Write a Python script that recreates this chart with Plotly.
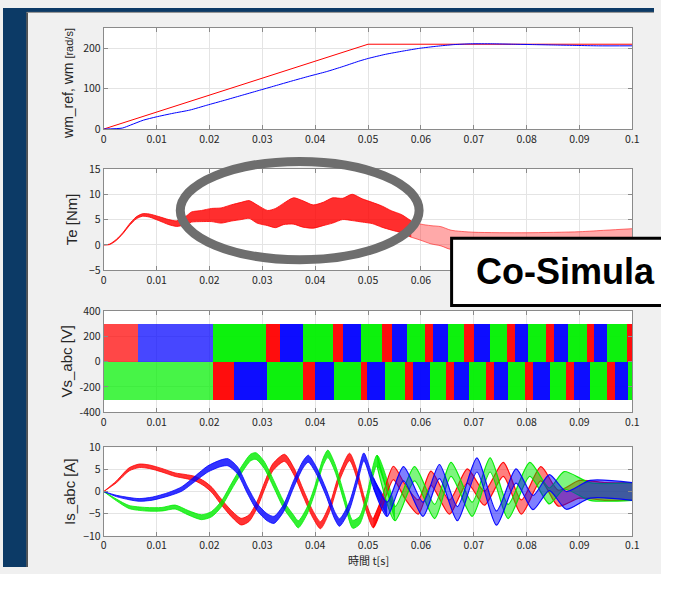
import plotly.graph_objects as go

# Figure kept slightly smaller than the 677x590 window so the page never overflows;
# positions below are given in window pixels measured on the reference.
W, H = 661, 574

# ---------------- data ----------------
t_ticks = [0, 0.01, 0.02, 0.03, 0.04, 0.05, 0.06, 0.07, 0.08, 0.09, 0.1]
t_tick_labels = ["0", "0.01", "0.02", "0.03", "0.04", "0.05", "0.06", "0.07", "0.08", "0.09", "0.1"]
# on the torque axis the labels right of 0.06 are covered by the callout box
te_tick_labels = ["0", "0.01", "0.02", "0.03", "0.04", "0.05", "0.06", "", "", "", ""]

# speed reference and measured speed [rad/s]
wm_ref_t = [0, 0.05, 0.1]
wm_ref_v = [0, 210, 210]
wm_t = [0, 0.0035, 0.0051, 0.0075, 0.0099, 0.0131, 0.0163, 0.0195, 0.0228, 0.026, 0.0292,
        0.0324, 0.0356, 0.0389, 0.0421, 0.0453, 0.0485, 0.0501, 0.0533, 0.0566, 0.0598,
        0.063, 0.0662, 0.0694, 0.0735, 0.0775, 0.0815, 0.0855, 0.0895, 0.0936, 0.1]
wm_v = [0, 2.4, 10, 22, 30, 39, 47, 59, 71, 83, 95,
        107, 119, 131, 142, 155, 169, 175, 185, 193, 200,
        205, 209, 211, 211, 210, 209, 208, 207, 206, 206]

# torque: band centre and half thickness [Nm]
te_t = [0, 0.0011, 0.0024, 0.0036, 0.0048, 0.0061, 0.0073, 0.0086, 0.0104, 0.0123,
        0.0138, 0.0155, 0.0166, 0.0185, 0.0204, 0.0222, 0.0241, 0.026, 0.0275, 0.029,
        0.031, 0.0325, 0.034, 0.0359, 0.0377, 0.0396, 0.0415, 0.0433, 0.0452, 0.047,
        0.0489, 0.0508, 0.0526, 0.0545, 0.0563, 0.0582, 0.06, 0.0619, 0.0638, 0.0657,
        0.07, 0.08, 0.09, 0.095, 0.1]
te_mid = [0, 0.1, 1.0, 2.3, 3.9, 5.3, 5.9, 5.8, 5.2, 4.5,
          4.2, 4.8, 5.5, 5.7, 5.9, 5.8, 6.3, 6.7, 7.0, 6.1,
          5.3, 5.3, 6.1, 6.7, 6.1, 5.6, 6.1, 6.8, 7.1, 7.4,
          6.8, 6.3, 5.6, 4.8, 4.2, 3.1, 2.5, 2.0, 1.7, 1.0,
          1.0, 0.9, 1.0, 1.2, 1.4]
te_hw = [0, 0.05, 0.1, 0.1, 0.15, 0.2, 0.25, 0.3, 0.4, 0.5,
         0.55, 0.8, 1.0, 1.1, 1.3, 1.5, 1.6, 1.7, 1.75, 1.8,
         1.5, 1.9, 2.1, 2.6, 2.6, 2.3, 2.3, 2.5, 2.1, 2.6,
         2.3, 2.1, 2.1, 1.9, 1.8, 1.6, 1.6, 1.8, 1.9, 1.9,
         1.5, 1.5, 1.6, 1.7, 1.8]

# inverter phase voltages: switching blocks (edges in s, colour of phase)
vs_level = 300
vs_top_edges = [0, 0.0064, 0.0207, 0.0306, 0.0333, 0.0377, 0.0433, 0.0452, 0.0487, 0.0526,
                0.0545, 0.0573, 0.0607, 0.0622, 0.065, 0.0681, 0.07, 0.0731, 0.0762, 0.0778,
                0.0802, 0.0837, 0.0852, 0.0877, 0.0914, 0.0927, 0.0951, 0.0989, 0.1]
vs_top_phase = ["a", "c", "b", "a", "c", "b", "a", "c", "b", "a", "c", "b", "a", "c",
                "b", "a", "c", "b", "a", "c", "b", "a", "c", "b", "a", "c", "b", "a"]
vs_bot_edges = [0, 0.0207, 0.0246, 0.0309, 0.0376, 0.0399, 0.0435, 0.0486, 0.0498, 0.0532,
                0.057, 0.0585, 0.0616, 0.0647, 0.0663, 0.0691, 0.0722, 0.0737, 0.0765, 0.0796,
                0.0812, 0.0843, 0.0874, 0.0889, 0.092, 0.0951, 0.0967, 0.0992, 0.1]
vs_bot_phase = ["b", "a", "c", "b", "a", "c", "b", "a", "c", "b", "a", "c", "b", "a",
                "c", "b", "a", "c", "b", "a", "c", "b", "a", "c", "b", "a", "c", "b"]

# stator currents [A]: centre of each phase and half thickness of the ripple
ia_t = [0, 0.0024, 0.0048, 0.0067, 0.0086, 0.011, 0.0135, 0.0154, 0.0173, 0.019,
        0.0205, 0.022, 0.024, 0.026, 0.0275, 0.029, 0.0305, 0.032, 0.0342, 0.036,
        0.0378, 0.0395, 0.041, 0.0428, 0.0445, 0.0465, 0.048, 0.0495, 0.051, 0.0525,
        0.0548, 0.057, 0.0595, 0.0619, 0.0654, 0.0688, 0.072, 0.0756, 0.079, 0.0827,
        0.086, 0.09, 0.095, 0.1]
ia_mid = [0, 2.2, 5.0, 5.8, 5.6, 4.8, 3.8, 3.4, 2.9, 1.8,
          0.3, -2.0, -4.8, -6.8, -6.0, -3.0, 1.5, 5.5, 7.6, 4.5,
          -0.5, -5.0, -7.6, -3.5, 3.0, 7.8, 3.5, -3.0, -7.2, -3.0,
          4.2, 0.0, -3.5, 3.0, -3.5, 3.5, -1.5, 5.0, -3.5, 4.0,
          -1.5, 0.5, 0.0, 0.0]
ia_hw = [0, 0.2, 0.35, 0.4, 0.4, 0.4, 0.4, 0.45, 0.5, 0.55,
         0.6, 0.65, 0.7, 0.75, 0.75, 0.75, 0.8, 0.8, 0.8, 0.8,
         0.8, 0.8, 0.8, 0.8, 0.8, 0.85, 0.9, 0.9, 1.0, 1.1,
         1.5, 1.6, 1.6, 1.6, 1.6, 1.6, 1.6, 1.6, 1.6, 1.6,
         1.8, 2.0, 2.0, 2.0]

ib_t = [0, 0.0024, 0.0048, 0.008, 0.011, 0.0135, 0.016, 0.0185, 0.0204, 0.0222,
        0.0241, 0.026, 0.0278, 0.0288, 0.0303, 0.0322, 0.034, 0.0359, 0.0368, 0.0384,
        0.0399, 0.0415, 0.0424, 0.0437, 0.0455, 0.0471, 0.0484, 0.0498, 0.0517, 0.0551,
        0.0588, 0.0626, 0.0657, 0.0697, 0.0731, 0.0765, 0.0806, 0.0843, 0.0871, 0.092, 0.1]
ib_mid = [0, -1.9, -3.5, -4.0, -4.0, -3.5, -4.8, -5.8, -5.1, -2.9,
          1.0, 4.8, 7.7, 8.0, 6.1, 1.6, -2.9, -6.1, -7.4, -4.5,
          0.3, 6.7, 8.5, 5.5, -1.5, -7.4, -6.5, -1.5, 7.0, -5.0,
          4.0, -4.5, 5.0, -4.0, 6.0, -4.5, 5.0, -1.0, 2.5, 0.0, 0.0]
ib_hw = [0, 0.2, 0.35, 0.4, 0.4, 0.45, 0.5, 0.55, 0.6, 0.65,
         0.7, 0.75, 0.75, 0.75, 0.8, 0.8, 0.8, 0.8, 0.8, 0.8,
         0.8, 0.8, 0.85, 0.85, 0.9, 0.9, 0.9, 1.0, 1.2, 1.6,
         1.6, 1.6, 1.6, 1.6, 1.6, 1.6, 1.6, 1.8, 2.0, 2.0, 2.0]

ic_t = [0, 0.0024, 0.0048, 0.0067, 0.0092, 0.0123, 0.0148, 0.0173, 0.0197, 0.0222,
        0.0235, 0.0253, 0.0272, 0.029, 0.0309, 0.0322, 0.034, 0.0359, 0.0377, 0.0387,
        0.0402, 0.0421, 0.0437, 0.0446, 0.0464, 0.048, 0.0492, 0.051, 0.0536, 0.0567,
        0.0604, 0.0635, 0.0669, 0.0706, 0.0743, 0.078, 0.0812, 0.0843, 0.0875, 0.092, 0.1]
ic_mid = [0, -1.0, -1.6, -1.9, -1.6, -0.6, 0.6, 2.9, 5.1, 6.4,
          6.6, 4.8, 0.3, -3.5, -5.8, -6.4, -3.8, 1.6, 6.1, 7.4,
          4.8, -0.3, -5.4, -7.0, -3.5, 2.9, 7.8, 2.0, -4.0, 4.0,
          -4.0, 4.5, -5.0, 6.0, -6.0, 3.5, -2.5, 2.0, -2.0, 0.5, 0.0]
ic_hw = [0, 0.15, 0.25, 0.3, 0.35, 0.4, 0.5, 0.6, 0.7, 0.75,
         0.8, 0.8, 0.8, 0.8, 0.8, 0.8, 0.8, 0.8, 0.8, 0.8,
         0.8, 0.8, 0.85, 0.85, 0.9, 0.9, 0.9, 1.1, 1.6, 1.6,
         1.6, 1.6, 1.6, 1.6, 1.6, 1.6, 1.6, 1.8, 2.0, 2.0, 2.0]

# ---------------- styling ----------------
RED, GREEN, BLUE = "#ff0000", "#00f000", "#0000ff"
phase_color = {"a": RED, "b": GREEN, "c": BLUE}
phase_rgb = {"a": "255,0,0", "b": "0,235,0", "c": "0,0,255"}
FRAME = "#8a8a8a"
GRID = "#e4e4e4"
SLIDE = "#0c3a66"
TICKFONT = dict(family="Noto Sans CJK JP, Liberation Sans", size=10.5, color="#262626")
NOISY_FROM = 0.052


def px(x):
    return x / W


def py(y):
    return 1 - y / H


def band(t, mid, hw, color, fill, xa, ya, lw=0.8):
    up = [m + h for m, h in zip(mid, hw)]
    lo = [m - h for m, h in zip(mid, hw)]
    ln = dict(color=color, width=lw, shape="spline", smoothing=0.7)
    return [
        go.Scatter(x=t, y=up, mode="lines", line=ln, xaxis=xa, yaxis=ya, hoverinfo="skip"),
        go.Scatter(x=t, y=lo, mode="lines", line=ln, fill="tonexty", fillcolor=fill,
                   xaxis=xa, yaxis=ya, hoverinfo="skip"),
    ]


traces = []
# 1: speed
traces.append(go.Scatter(x=wm_ref_t, y=wm_ref_v, mode="lines", line=dict(color=RED, width=1),
                         xaxis="x", yaxis="y"))
traces.append(go.Scatter(x=wm_t, y=wm_v, mode="lines",
                         line=dict(color=BLUE, width=1, shape="spline", smoothing=0.6),
                         xaxis="x", yaxis="y"))

# 2: torque (dense part and sparse tail)
split = te_t.index(0.0582)
traces += band(te_t[:split + 1], te_mid[:split + 1], te_hw[:split + 1], RED,
               "rgba(255,0,0,0.82)", "x2", "y2")
traces += band(te_t[split:], te_mid[split:], te_hw[split:], "rgba(255,0,0,0.7)",
               "rgba(255,40,40,0.4)", "x2", "y2")

# 3: voltages as blocks
for edges, phases, lvl in [(vs_top_edges, vs_top_phase, vs_level),
                           (vs_bot_edges, vs_bot_phase, -vs_level)]:
    mids = [(a + b) / 2 for a, b in zip(edges[:-1], edges[1:])]
    widths = [b - a for a, b in zip(edges[:-1], edges[1:])]
    cols = [phase_color[p] for p in phases]
    ops = [0.72 if b <= 0.021 else 0.95 for b in edges[1:]]
    traces.append(go.Bar(x=mids, y=[lvl] * len(mids), base=0, width=widths,
                         marker=dict(color=cols, opacity=ops, line=dict(width=0)),
                         xaxis="x3", yaxis="y3", hoverinfo="skip"))

# 4: currents (clean part, then the noisy tail drawn lighter so phases mix)
for ph, tt, mm, hh in [("a", ia_t, ia_mid, ia_hw), ("b", ib_t, ib_mid, ib_hw),
                       ("c", ic_t, ic_mid, ic_hw)]:
    k = next(i for i, v in enumerate(tt) if v >= NOISY_FROM)
    traces += band(tt[:k + 1], mm[:k + 1], hh[:k + 1], phase_color[ph],
                   "rgba(%s,0.8)" % phase_rgb[ph], "x4", "y4")
for ph, tt, mm, hh in [("a", ia_t, ia_mid, ia_hw), ("b", ib_t, ib_mid, ib_hw),
                       ("c", ic_t, ic_mid, ic_hw)]:
    k = next(i for i, v in enumerate(tt) if v >= NOISY_FROM)
    traces += band(tt[k - 1:], mm[k - 1:], hh[k - 1:], "rgba(%s,0.95)" % phase_rgb[ph],
                   "rgba(%s,0.5)" % phase_rgb[ph], "x4", "y4", lw=1.2)

fig = go.Figure(traces)

x_dom = [px(102.3), px(639)]
domains = [[py(124.3), py(20.6)], [py(269.2), py(165.3)], [py(415), py(311)], [py(542), py(451)]]
y_cfg = [
    dict(range=[0, 250], tickvals=[0, 100, 200]),
    dict(range=[-5, 15], tickvals=[-5, 0, 5, 10, 15]),
    dict(range=[-400, 400], tickvals=[-400, -200, 0, 200, 400],
         ticktext=["-400", "-200", "0", "200", "400"]),
    dict(range=[-10, 10], tickvals=[-10, -5, 0, 5, 10]),
]
x_labels = [t_tick_labels, te_tick_labels, t_tick_labels, t_tick_labels]

common = dict(showline=True, linecolor=FRAME, linewidth=1, mirror="allticks",
              ticks="inside", ticklen=4, tickcolor=FRAME, showgrid=True, gridcolor=GRID,
              gridwidth=1, zeroline=False, tickfont=TICKFONT, fixedrange=True)

layout = dict(width=W, height=H, margin=dict(l=0, r=0, t=0, b=0),
              paper_bgcolor="#f0f0f0", plot_bgcolor="#ffffff", showlegend=False,
              barmode="overlay", bargap=0)
for i in range(4):
    sfx = "" if i == 0 else str(i + 1)
    layout["xaxis" + sfx] = dict(common, domain=x_dom, anchor="y" + sfx, range=[0, 0.1],
                                 tickvals=t_ticks, ticktext=x_labels[i])
    layout["yaxis" + sfx] = dict(common, domain=domains[i], anchor="x" + sfx, **y_cfg[i])
fig.update_layout(**layout)

shapes = [
    # dark slide background around the window
    dict(type="rect", xref="paper", yref="paper", x0=0, x1=px(24), y0=0, y1=1,
         fillcolor=SLIDE, line=dict(width=0), layer="below"),
    dict(type="rect", xref="paper", yref="paper", x0=0, x1=1, y0=py(4), y1=1,
         fillcolor=SLIDE, line=dict(width=0), layer="below"),
    dict(type="line", xref="paper", yref="paper", x0=px(24.5), x1=px(24.5), y0=0, y1=py(4),
         line=dict(color="#3c3c3c", width=1.5), layer="below"),
    dict(type="line", xref="paper", yref="paper", x0=px(24), x1=1, y0=py(4.5), y1=py(4.5),
         line=dict(color="#8a8a8a", width=1), layer="below"),
    # highlight ellipse
    dict(type="circle", xref="paper", yref="paper", x0=px(180), x1=px(422.5),
         y0=py(258.5), y1=py(157.5), line=dict(color="#6e6e6e", width=9), layer="above"),
    # callout box (runs off the right edge like in the slide)
    dict(type="rect", xref="paper", yref="paper", x0=px(455.5), x1=px(720),
         y0=py(305.5), y1=py(236.5), fillcolor="#ffffff",
         line=dict(color="#000000", width=3), layer="above"),
]
fig.update_layout(shapes=shapes)

TITLEFONT = dict(family="Liberation Sans, Arial", size=15, color="#262626")
annotations = [
    dict(text="wm_ref, wm <span style='font-size:11px'>[rad/s]</span>", x=px(66), y=py(78),
         textangle=-90, font=dict(TITLEFONT, size=14)),
    dict(text="Te [Nm]", x=px(69), y=py(217), textangle=-90, font=TITLEFONT),
    dict(text="Vs_abc [V]", x=px(64), y=py(363), textangle=-90, font=TITLEFONT),
    dict(text="Is_abc [A]", x=px(67), y=py(496), textangle=-90, font=TITLEFONT),
    dict(text="時間 t[s]", x=px(371), y=py(566.5),
         font=dict(family="Noto Sans CJK JP", size=11, color="#262626")),
    dict(text="<b>Co-Simula</b>", x=px(478), y=py(271), xanchor="left", yanchor="middle",
         font=dict(family="Liberation Sans, Arial", size=36, color="#000000")),
]
for a in annotations:
    a.update(xref="paper", yref="paper", showarrow=False)
    a.setdefault("xanchor", "center")
    a.setdefault("yanchor", "middle")
fig.update_layout(annotations=annotations)

fig.write_html("out.html")
